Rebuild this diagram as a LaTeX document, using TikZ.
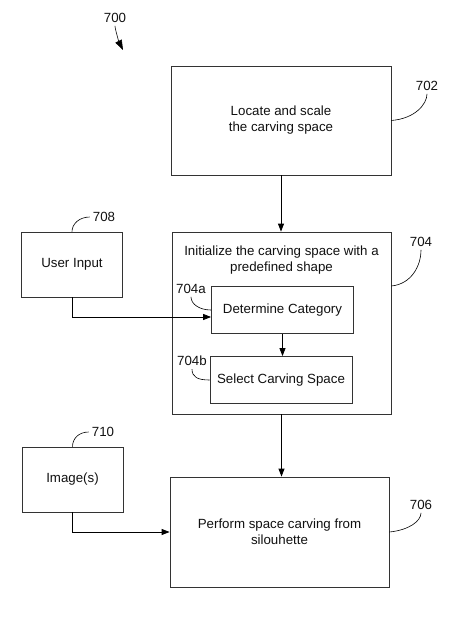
\documentclass[tikz,border=0pt]{standalone}
\usepackage{fontspec}
\setmainfont{Liberation Sans}
\usetikzlibrary{positioning,arrows.meta}
\definecolor{boxLine}{HTML}{333333}
\definecolor{inkText}{HTML}{111111}

\begin{document}
\begin{tikzpicture}[
  x=1pt, y=-1pt,
  font=\fontsize{13.3}{16}\selectfont,
  every node/.style={text=inkText},
  box/.style={draw=boxLine, line width=0.8pt, align=center, inner sep=4pt, fill=white},
  sub/.style={box, minimum width=142pt, minimum height=47pt},
  src/.style={box, minimum width=101pt, minimum height=65pt},
  refnum/.style={inner sep=1pt},
  flow/.style={-{Triangle[length=8pt,width=6pt]}, line width=0.8pt, draw=black},
  lead/.style={line width=0.6pt, draw=black, shorten <=2pt},
]
\useasboundingbox (0,0) rectangle (475,621);

% ---------------- NODES (pixel grid, y down) ----------------
\node[box, minimum width=220pt, minimum height=109pt] (LOCATE) at (281,120.5)
  {Locate and scale\\the carving space};
\node[box, minimum width=219pt, minimum height=182pt] (INIT) at (281.5,323) {};
\node[align=center] (INITtitle) at (281.5,260)
  {Initialize the carving space with a\\predefined shape};
\node[sub] (CAT) at (282.5,310) {Determine Category};
\node[sub] (SEL) at (281,380) {Select Carving Space};
\node[box, minimum width=219pt, minimum height=110pt] (CARVE) at (279.5,532)
  {Perform space carving from\\silouhette};

\node[src] (USER) at (72,264.5) {User Input};
\node[src] (IMG) at (72.5,479.5) {Image(s)};

% reference numerals
\node[refnum] (R700) at (115,18) {700};
\coordinate (P700) at (123,50);
\node[refnum] (R702) at (427,86) {702};
\node[refnum] (R704) at (421,242) {704};
\node[refnum] (R706) at (421,505) {706};
\node[refnum] (R708) at (104,217) {708};
\node[refnum] (R710) at (103,432) {710};
\node[refnum] (R704a) at (191,289) {704a};
\node[refnum] (R704b) at (192,361) {704b};

% ---------------- EDGES ----------------
\draw[flow] (LOCATE.south) -- (LOCATE.south |- INIT.north);
\draw[flow] (CAT.south) -- (CAT.south |- SEL.north);
\draw[flow] (INIT.south) -- (INIT.south |- CARVE.north);
\draw[flow] (USER.south) |- ([yshift=-7pt]CAT.west);
\draw[flow] (IMG.south) |- (CARVE.west);

% ---------------- LEADERS ----------------
\draw[lead, -{Triangle[length=10pt,width=7pt]}] (R700.south) .. controls +(0,5) and +(-4,-8) .. (P700);
\draw[lead] (R702.south) .. controls +(0,12) and +(24,-2) .. (LOCATE.east);
\draw[lead] (R704.south) .. controls +(0,18) and +(20,-2) .. ([yshift=37pt]INIT.east);
\draw[lead] (R706.south) .. controls +(0,10) and +(20,-2) .. (CARVE.east);
\draw[lead] (R708.west) .. controls +(-12,0) and +(0,-8) .. (USER.north);
\draw[lead] (R710.west) .. controls +(-12,0) and +(0,-8) .. (IMG.north);
\draw[lead] (R704a.south) .. controls +(0,9) and +(-12,0) .. (CAT.west);
\draw[lead] (R704b.south) .. controls +(0,10) and +(-12,0) .. (SEL.west);
\end{tikzpicture}
\end{document}
